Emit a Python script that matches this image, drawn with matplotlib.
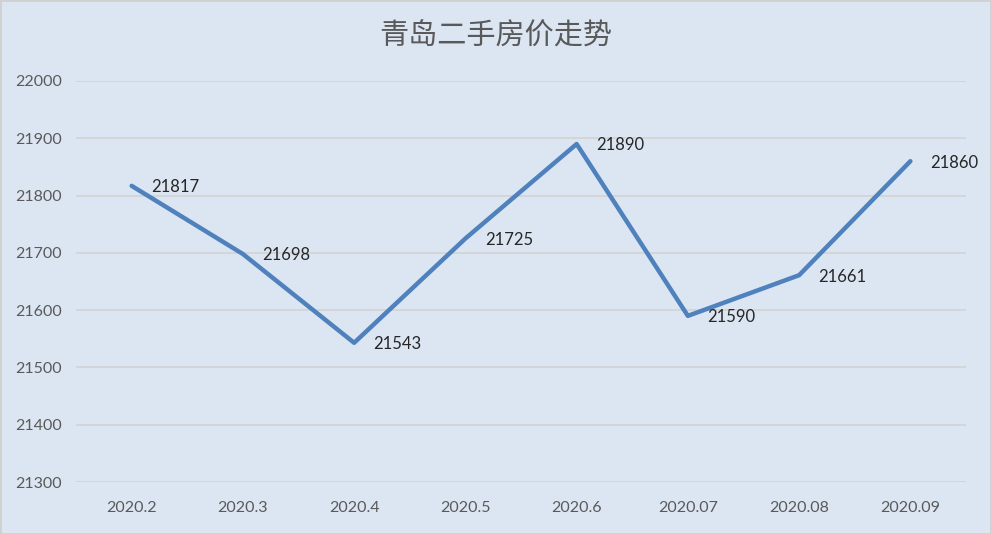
import matplotlib
matplotlib.use("Agg")
import matplotlib.pyplot as plt

plt.rcParams['font.family'] = ['Lato', 'Noto Sans CJK SC', 'DejaVu Sans']

months = ['2020.2', '2020.3', '2020.4', '2020.5', '2020.6', '2020.07', '2020.08', '2020.09']
prices = [21817, 21698, 21543, 21725, 21890, 21590, 21661, 21860]
yticks = [21300, 21400, 21500, 21600, 21700, 21800, 21900, 22000]

bg = '#dce6f2'
txt = '#595959'

fig = plt.figure(figsize=(9.91, 5.34), dpi=100, facecolor=bg)
fig.patches.append(plt.Rectangle((0, 0), 1, 1, transform=fig.transFigure,
                                 fill=False, edgecolor='#d0d0d0', linewidth=2))
ax = fig.add_axes([76 / 991, 52 / 534, 890 / 991, 401 / 534])
ax.set_facecolor(bg)

x = list(range(len(months)))
ax.plot(x, prices, color='#4f81bd', linewidth=3.2, solid_capstyle='round',
        solid_joinstyle='round', zorder=3)

for xi, v in zip(x, prices):
    ax.annotate(str(v), (xi, v), xytext=(14, -1), textcoords='offset points',
                ha='left', va='center', fontsize=12, color='#262626')

ax.set_xlim(-0.5, len(months) - 0.5)
ax.set_ylim(21300, 22000)
ax.set_yticks(yticks)
ax.set_xticks(x)
ax.set_xticklabels(months)
ax.grid(axis='y', color='#d4d4d4', linewidth=1.3)
ax.set_axisbelow(True)
for s in ax.spines.values():
    s.set_visible(False)
ax.tick_params(length=0, labelsize=11.5, colors=txt)
ax.tick_params(axis='y', pad=10)
ax.tick_params(axis='x', pad=14)

fig.text(0.5, 1 - 37 / 534, '青岛二手房价走势', ha='center', va='center',
         fontsize=21, color=txt, family=['Noto Sans CJK SC', 'DejaVu Sans'])

fig.savefig('out.png', dpi=100, facecolor=bg)
